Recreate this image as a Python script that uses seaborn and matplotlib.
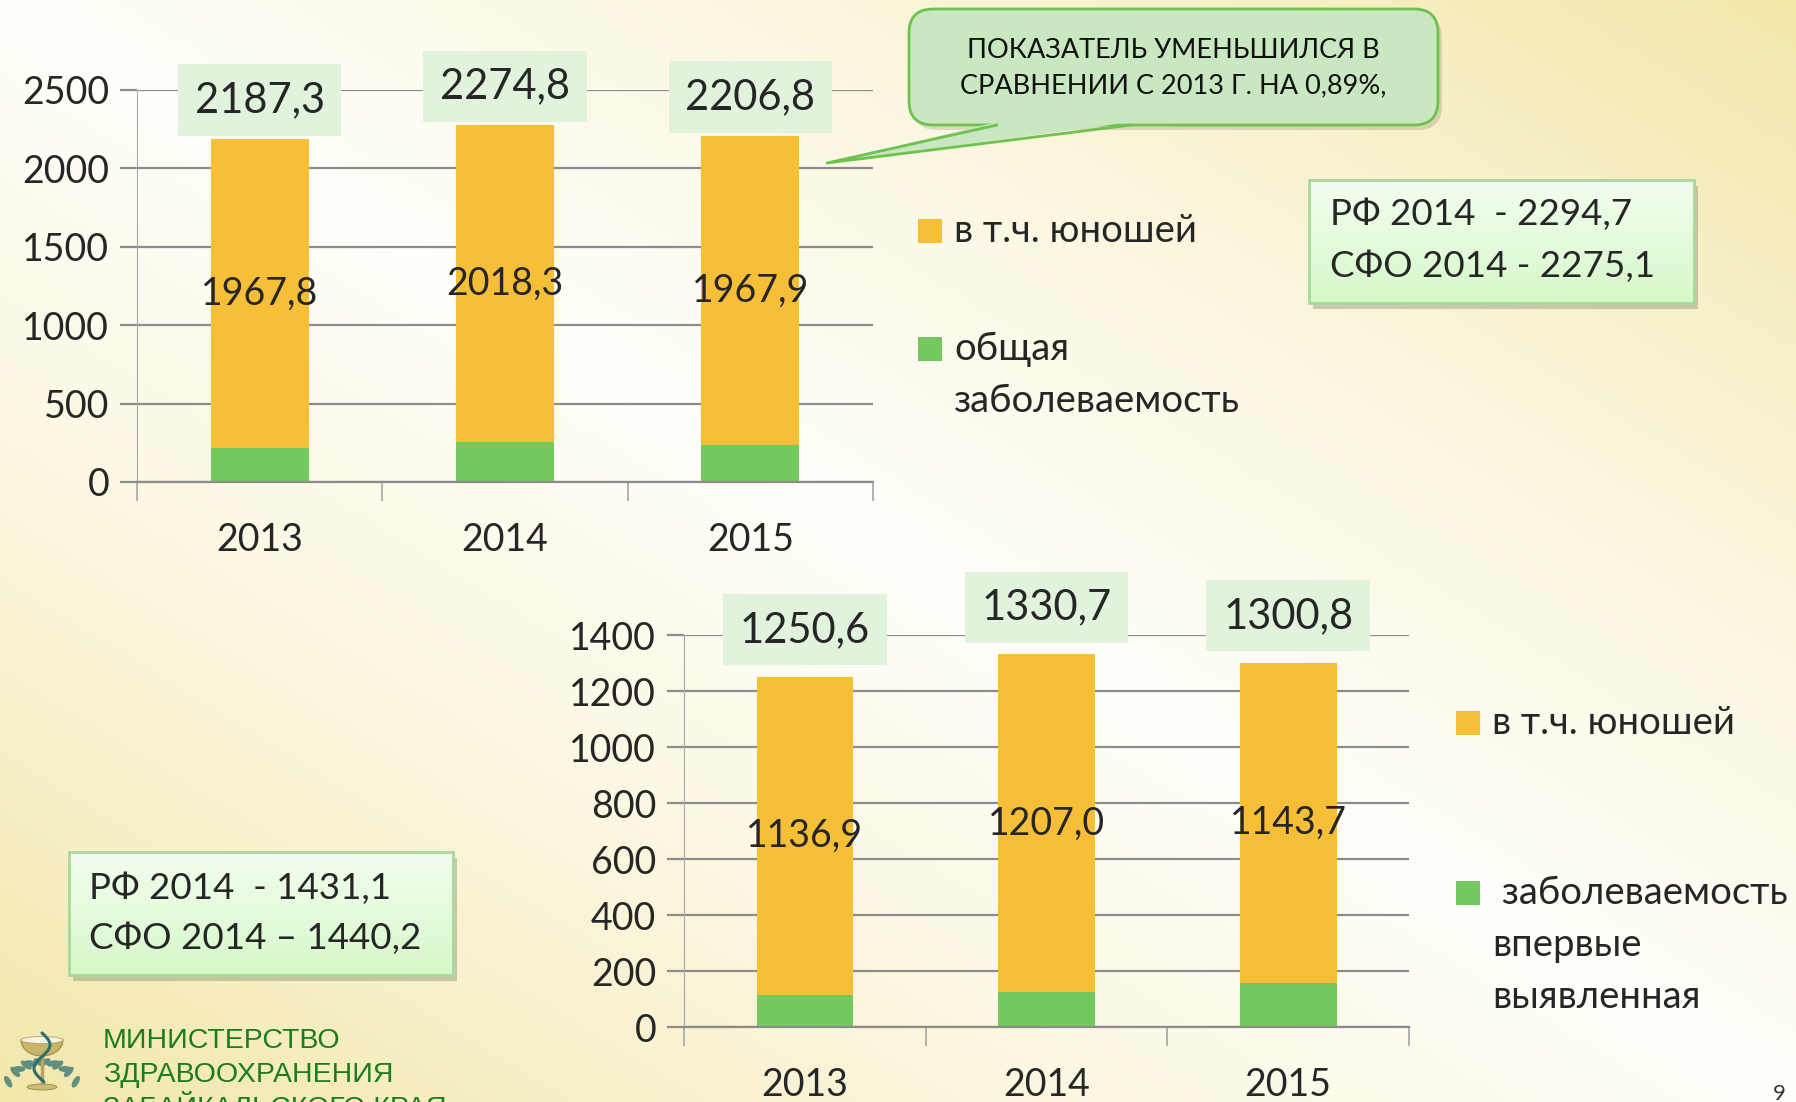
import numpy as np
import pandas as pd
import seaborn as sns
import matplotlib.pyplot as plt
from matplotlib.colors import LinearSegmentedColormap
from matplotlib.patches import FancyBboxPatch, Rectangle, Polygon, Ellipse

# data
years = ['2013', '2014', '2015']

total_top = [2187.3, 2274.8, 2206.8]
youth_top = [1967.8, 2018.3, 1967.9]

total_bot = [1250.6, 1330.7, 1300.8]
youth_bot = [1136.9, 1207.0, 1143.7]

legend_top = ['в т.ч. юношей', 'общая\nзаболеваемость']
legend_bot = ['в т.ч. юношей', ' заболеваемость\nвпервые\nвыявленная']
note_top = ['РФ 2014  - 2294,7', 'СФО 2014 - 2275,1']
note_bot = ['РФ 2014  - 1431,1', 'СФО 2014 – 1440,2']
callout = 'ПОКАЗАТЕЛЬ УМЕНЬШИЛСЯ В\nСРАВНЕНИИ С 2013 Г. НА 0,89%,'
ministry = ['МИНИСТЕРСТВО', 'ЗДРАВООХРАНЕНИЯ', 'ЗАБАЙКАЛЬСКОГО КРАЯ']

ORANGE = '#f7be38'
GREEN = '#73c95d'
GRID = '#8c8c8c'
SPINE = '#a6a6a6'
BOX = '#e1f3dc'

sns.set_style('white')
plt.rcParams['font.family'] = ['Lato', 'DejaVu Sans']

W, H = 1796, 1102
fig = plt.figure(figsize=(W / 100, H / 100), dpi=100)

# slide background: yellow corners, pale diagonal band
bg = fig.add_axes([0, 0, 1, 1], zorder=-2)
xx, yy = np.meshgrid(np.linspace(0, 1, 400), np.linspace(0, 1, 250))
shade = np.abs(xx - yy) ** 1.3
bg_cmap = LinearSegmentedColormap.from_list('bg', ['#fffef8', '#f3e7aa'])
bg.imshow(shade, cmap=bg_cmap, aspect='auto', extent=[0, 1, 1, 0], vmin=0, vmax=1)
bg.axis('off')


def fmt(v):
    return f'{v:.1f}'.replace('.', ',')


def stacked(rect, total, youth, ymax, step, off):
    ax = fig.add_axes(rect)
    ax.set_facecolor('none')
    df = pd.DataFrame({'year': years, 'total': total, 'youth': youth})
    df['rest'] = df['total'] - df['youth']

    sns.barplot(data=df, x='year', y='total', color=ORANGE, width=0.4,
                saturation=1, linewidth=0, ax=ax, zorder=2)
    sns.barplot(data=df, x='year', y='rest', color=GREEN, width=0.4,
                saturation=1, linewidth=0, ax=ax, zorder=2)

    ax.set_xlim(-0.5, 2.5)
    ax.set_ylim(0, ymax)
    ax.set_yticks(np.arange(0, ymax + 1, step))
    ax.set_xticks([-0.5, 0.5, 1.5, 2.5], minor=True)
    ax.yaxis.grid(True, color=GRID, lw=1.6)
    ax.set_axisbelow(True)
    ax.set_xlabel('')
    ax.set_ylabel('')

    for s in ['top', 'right']:
        ax.spines[s].set_visible(False)
    ax.spines['left'].set_color(SPINE)
    ax.spines['bottom'].set_color(GRID)
    ax.spines['bottom'].set_linewidth(1.6)

    ax.tick_params(axis='y', left=True, length=12, width=1.6, color=GRID,
                   labelsize=27, pad=8)
    ax.tick_params(axis='x', which='major', bottom=False, labelsize=27, pad=25)
    ax.tick_params(axis='x', which='minor', bottom=True, length=14, width=1.2,
                   color=SPINE)

    # youth value in the middle of the orange part, total in a box on top
    for i, row in df.iterrows():
        ax.text(i, (row['rest'] + row['total']) / 2, fmt(row['youth']),
                ha='center', va='center', fontsize=27, zorder=4)
        ax.annotate(fmt(row['total']), xy=(i, row['total']), xytext=(0, off),
                    textcoords='offset pixels', ha='center', va='bottom',
                    fontsize=30, annotation_clip=False, zorder=5,
                    bbox=dict(boxstyle='square,pad=0.4', fc=BOX, ec='none'))
    return ax


stacked([137 / W, 1 - 482 / H, 736 / W, 392 / H], total_top, youth_top, 2500, 500, 20)
stacked([684 / W, 1 - 1027 / H, 725 / W, 392 / H], total_bot, youth_bot, 1400, 200, 28)

# overlay in pixel coordinates for slide decorations
ov = fig.add_axes([0, 0, 1, 1], zorder=5)
ov.patch.set_alpha(0)
ov.axis('off')

# callout bubble
ov.add_patch(FancyBboxPatch((913, 14), 529, 116, boxstyle='round,pad=0,rounding_size=24',
                            fc='#000000', ec='none', alpha=0.12))
ov.add_patch(FancyBboxPatch((909, 9), 529, 116, boxstyle='round,pad=0,rounding_size=24',
                            fc='#c9e7c0', ec='#6fc24f', lw=2))
ov.add_patch(Polygon([(997, 122), (827, 163), (1131, 122)], closed=True,
                     fc='#c9e7c0', ec='none'))
ov.plot([997, 827, 1131], [125, 163, 125], color='#6fc24f', lw=2)
ov.text(1173, 68, callout, ha='center', va='center', fontsize=19.5,
        linespacing=1.5, color='#111111')

note_cmap = LinearSegmentedColormap.from_list('note', ['#f3fdf0', '#d6f9c9'])
grad = np.linspace(0, 1, 100).reshape(-1, 1)


def note_box(x0, y0, x1, y1, lines, tx, ty, dy):
    ov.add_patch(Rectangle((x0 + 4, y0 + 6), x1 - x0, y1 - y0, fc='#000000',
                           ec='none', alpha=0.18))
    ov.imshow(grad, cmap=note_cmap, aspect='auto', extent=[x0, x1, y1, y0], zorder=2)
    ov.add_patch(Rectangle((x0, y0), x1 - x0, y1 - y0, fc='none', ec='#a9d99a',
                           lw=2, zorder=3))
    for k, line in enumerate(lines):
        ov.text(tx, ty + k * dy, line, ha='left', va='center', fontsize=26.5, zorder=4)


note_box(1309, 180, 1694, 303, note_top, 1330, 215, 52)
note_box(69, 852, 453, 975, note_bot, 89, 889, 50)


def legend(x, ys, labels):
    for (y, lab), col in zip(zip(ys, labels), [ORANGE, GREEN]):
        ov.add_patch(Rectangle((x - 12, y - 12), 24, 24, fc=col, ec='none'))
        for k, line in enumerate(lab.split('\n')):
            ov.text(x + 24, y + k * 52, line, ha='left', va='center', fontsize=27.5)


legend(930, [231, 349], legend_top)
legend(1468, [723, 893], legend_bot)

# ministry emblem: bowl with snake inside a laurel wreath
leaf = '#5e8f80'
for side in (-1, 1):
    for k in range(6):
        a = np.deg2rad(200 + k * 22) if side < 0 else np.deg2rad(-20 - k * 22)
        cx = 42 + side * abs(36 * np.cos(a))
        cy = 1072 - 30 * np.sin(np.deg2rad(20 + k * 22)) + 20
        ov.add_patch(Ellipse((cx, cy), 6, 13, angle=side * (30 + k * 12),
                             fc=leaf, ec='none', zorder=3))
tt = np.linspace(np.pi, 2 * np.pi, 40)
ov.add_patch(Polygon(np.c_[42 + 21 * np.cos(tt), 1040 - 16 * np.sin(tt)],
                     fc='#c8b46a', ec='#9c8a48', lw=0.8, zorder=4))
ov.add_patch(Ellipse((42, 1040), 42, 7, fc='#f7f3e2', ec='#b8a560', lw=0.6, zorder=5))
ov.plot([42, 42], [1055, 1085], color='#b5a25e', lw=2.5, zorder=4)
ov.add_patch(Ellipse((42, 1087), 30, 6, fc='#cdbb78', ec='#9c8a48', lw=0.6, zorder=4))
sy = np.linspace(1033, 1082, 60)
ov.plot(42 + 8 * np.sin((sy - 1033) / 7.5), sy, color='#2f6e6a', lw=2.2, zorder=6)

# ministry caption
for k, line in enumerate(ministry):
    ov.text(103, 1041 + k * 34, line, ha='left', va='center', fontsize=20.5,
            color='#1b7d1b', family='Liberation Sans')
ov.text(1779, 1084, '9', ha='center', va='top', fontsize=16, color='#333333')

ov.set_xlim(0, W)
ov.set_ylim(H, 0)

fig.savefig('out.png', dpi=100)
